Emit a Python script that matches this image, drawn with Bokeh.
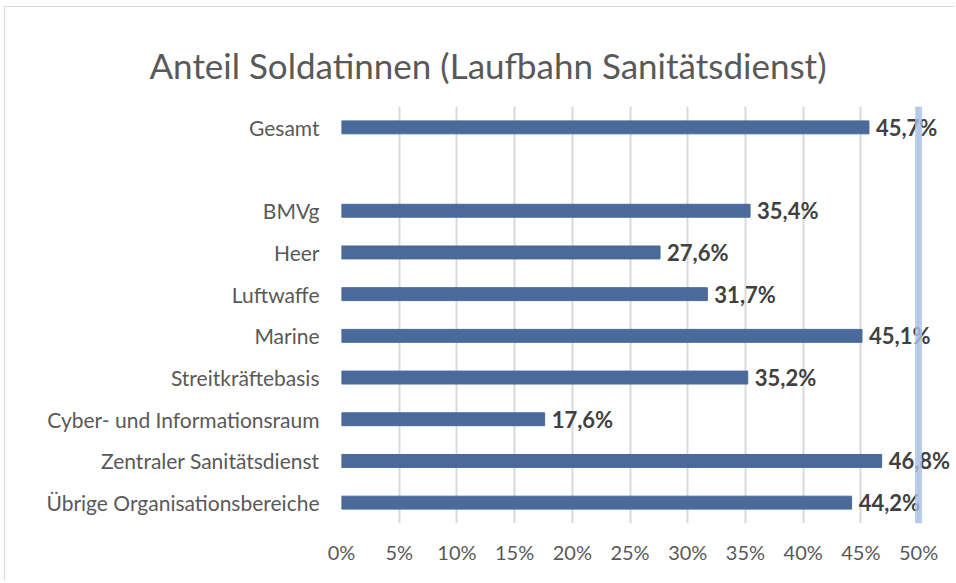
from bokeh.plotting import figure
from bokeh.models import ColumnDataSource, FixedTicker, PrintfTickFormatter, Span, Range1d, FactorRange
from bokeh.embed import file_html
from bokeh.resources import INLINE

categories = ["Gesamt", " ", "BMVg", "Heer", "Luftwaffe", "Marine", "Streitkräftebasis",
              "Cyber- und Informationsraum", "Zentraler Sanitätsdienst", "Übrige Organisationsbereiche"]
bar_categories = ["Gesamt", "BMVg", "Heer", "Luftwaffe", "Marine", "Streitkräftebasis",
                  "Cyber- und Informationsraum", "Zentraler Sanitätsdienst", "Übrige Organisationsbereiche"]
values = [45.7, 35.4, 27.6, 31.7, 45.1, 35.2, 17.6, 46.8, 44.2]
x_ticks = [0, 5, 10, 15, 20, 25, 30, 35, 40, 45, 50]
title_text = "Anteil Soldatinnen (Laufbahn Sanitätsdienst)"

labels = [f"{v:.1f}".replace(".", ",") + "%" for v in values]
src = ColumnDataSource(dict(cat=bar_categories, val=values, lab=labels))

FONT = "Lato"
p = figure(width=950, height=574, output_backend="svg", toolbar_location=None,
           y_range=FactorRange(factors=list(reversed(categories))),
           x_range=Range1d(0, 53.2), title=title_text,
           min_border_left=336, min_border_right=0, min_border_top=99, min_border_bottom=58)
p.styles = {"border-left": "1px solid #d9d9d9", "border-top": "1px solid #d9d9d9",
            "margin-left": "4px", "margin-top": "6px"}
p.outline_line_color = None
p.title.text_font = FONT
p.title.text_font_size = "35px"
p.title.text_font_style = "normal"
p.title.text_color = "#595959"
p.title.align = "left"
p.title.vertical_align = "middle"
p.title.offset = -192
p.title.standoff = 40

p.hbar(y="cat", right="val", left=0, height=0.31, source=src, color="#4a6a9b")
p.text(x="val", y="cat", text="lab", source=src, x_offset=7, text_baseline="middle",
       text_font_size="22px", text_font_style="bold", text_color="#404040",
       text_font={"value": FONT})

p.add_layout(Span(location=50, dimension="height", line_color="#a9c0e6", line_alpha=0.8, line_width=7))

p.xaxis.ticker = FixedTicker(ticks=x_ticks)
p.xaxis.formatter = PrintfTickFormatter(format="%d%%")
for ax in (p.xaxis, p.yaxis):
    ax.axis_line_color = None
    ax.major_tick_line_color = None
    ax.minor_tick_line_color = None
    ax.major_label_text_font = FONT
    ax.major_label_text_color = "#595959"
p.xaxis.major_label_text_font_size = "20px"
p.yaxis.major_label_text_font_size = "21px"
p.xaxis.major_label_standoff = 10
p.yaxis.major_label_standoff = 16

p.xgrid.grid_line_color = "#d9d9d9"
p.xgrid.grid_line_width = 2
p.ygrid.grid_line_color = None

open("out.html", "w").write(file_html(p, INLINE))
